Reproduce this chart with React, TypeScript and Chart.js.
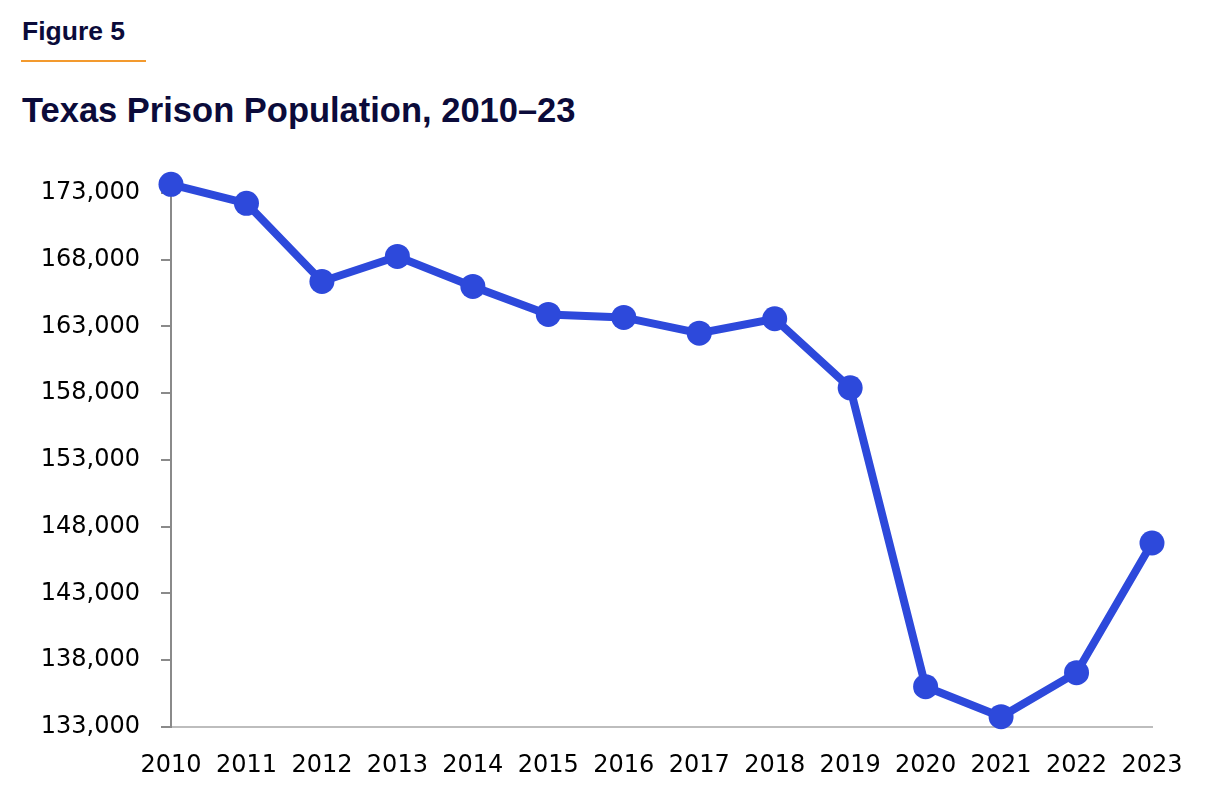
import React, { useEffect, useRef } from "react";
import { Chart, registerables } from "chart.js";

Chart.register(...registerables);

const years = ["2010", "2011", "2012", "2013", "2014", "2015", "2016", "2017", "2018", "2019", "2020", "2021", "2022", "2023"];
const population = [173650, 172230, 166370, 168250, 166000, 163900, 163680, 162500, 163580, 158400, 136000, 133750, 137050, 146770];
const yTickValues = [133000, 138000, 143000, 148000, 153000, 158000, 163000, 168000, 173000];

const NAVY = "#0b0b3a";
const BLUE = "#2d49db";
const TICK_FONT = "'DejaVu Sans', 'Liberation Sans', sans-serif";
const HEAD_FONT = "'Liberation Sans', Arial, sans-serif";

export default function App() {
  const canvasRef = useRef<HTMLCanvasElement | null>(null);

  useEffect(() => {
    const canvas = canvasRef.current;
    if (!canvas) return;
    const chart = new Chart(canvas, {
      type: "line",
      data: {
        labels: years,
        datasets: [
          {
            data: population,
            borderColor: BLUE,
            backgroundColor: BLUE,
            borderWidth: 8,
            pointRadius: 12.5,
            pointHoverRadius: 12.5,
            pointBackgroundColor: BLUE,
            pointBorderWidth: 0,
            tension: 0,
            clip: false as any,
          },
        ],
      },
      options: {
        responsive: false,
        animation: false,
        devicePixelRatio: 1,
        layout: { padding: { left: 21, right: 71, top: 179.7, bottom: 32.3 } },
        plugins: { legend: { display: false }, tooltip: { enabled: false }, title: { display: false } },
        scales: {
          x: {
            type: "category",
            offset: false,
            grid: { drawOnChartArea: false, drawTicks: false },
            border: { display: true, color: "#bdbdbd", width: 2 },
            ticks: {
              color: "#000",
              font: { family: TICK_FONT, size: 24 },
              padding: 25,
              maxRotation: 0,
              autoSkip: false,
            },
            afterFit: (scale: any) => {
              scale.height = 50;
            },
          },
          y: {
            type: "linear",
            min: 133000,
            max: 174000,
            grid: { drawOnChartArea: false, drawTicks: true, tickLength: 10, color: "#8a8a8a", lineWidth: 2 },
            border: { display: true, color: "#8a8a8a", width: 2 },
            afterBuildTicks: (scale: any) => {
              scale.ticks = yTickValues.map((v) => ({ value: v }));
            },
            ticks: {
              color: "#000",
              font: { family: TICK_FONT, size: 24 },
              padding: 21,
              callback: (v: any) => Number(v).toLocaleString("en-US"),
            },
            afterFit: (scale: any) => {
              scale.width = 150;
            },
          },
        },
      },
    });
    return () => chart.destroy();
  }, []);

  return (
    <div style={{ position: "absolute", left: 0, top: 0, width: 1223, height: 809, background: "#fff", overflow: "hidden" }}>
      <div
        style={{
          position: "absolute",
          left: 22,
          top: 18,
          fontFamily: HEAD_FONT,
          fontWeight: 700,
          fontSize: 26.5,
          lineHeight: "26.5px",
          color: NAVY,
          whiteSpace: "nowrap",
        }}
      >
        Figure 5
      </div>
      <div style={{ position: "absolute", left: 21, top: 60, width: 125, height: 2, background: "#f39a2e" }} />
      <div
        style={{
          position: "absolute",
          left: 22,
          top: 93,
          fontFamily: HEAD_FONT,
          fontWeight: 700,
          fontSize: 34.5,
          lineHeight: "34.5px",
          color: NAVY,
          whiteSpace: "nowrap",
        }}
      >
        Texas Prison Population, 2010–23
      </div>
      <canvas ref={canvasRef} width={1223} height={809} style={{ position: "absolute", left: 0, top: 0, width: 1223, height: 809 }} />
    </div>
  );
}
